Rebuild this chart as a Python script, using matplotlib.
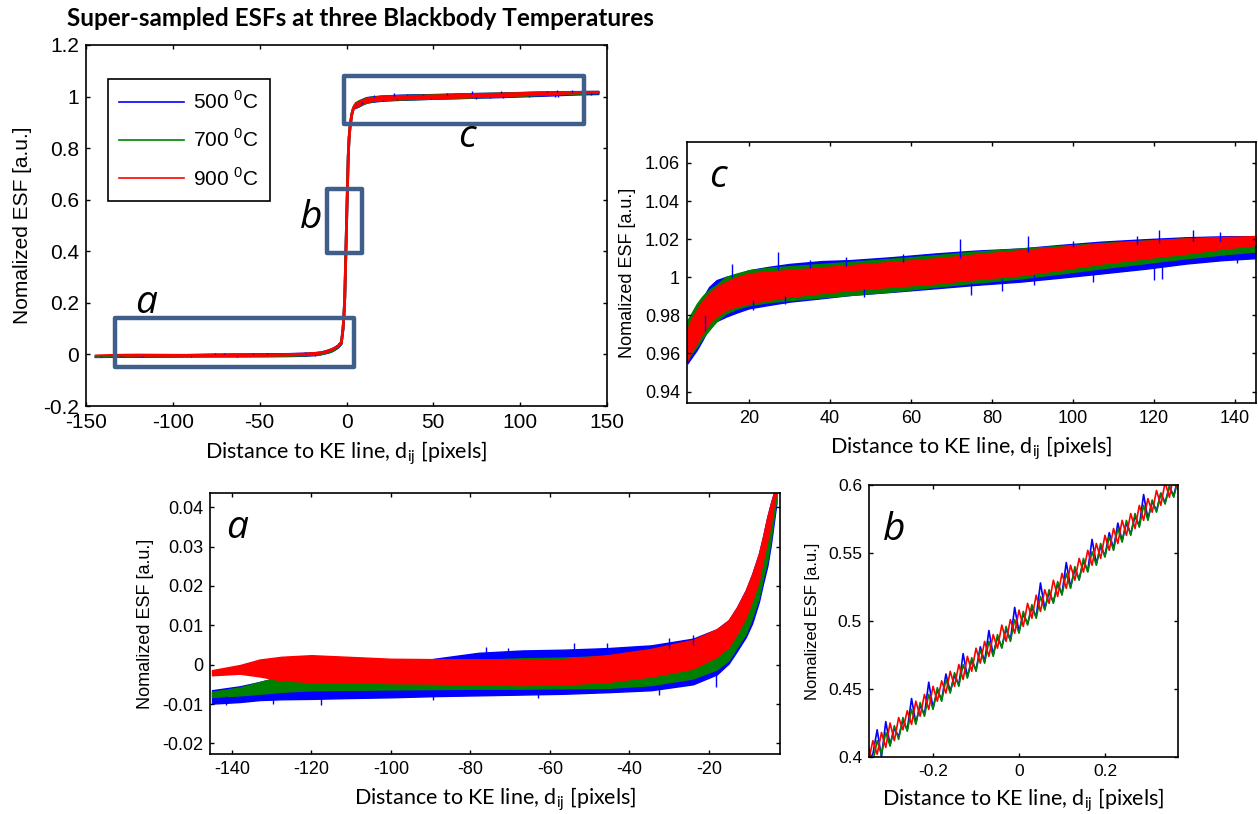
import numpy as np
import matplotlib
matplotlib.use("Agg")
import matplotlib.pyplot as plt
from matplotlib.patches import Rectangle
from matplotlib.lines import Line2D
from matplotlib.ticker import FuncFormatter

plt.rcParams['font.family'] = 'Liberation Sans'
plt.rcParams['axes.linewidth'] = 1.2

temps = ['500', '700', '900']
colors = ['#0000ff', '#008000', '#ff0000']

# ---- region a : dark side of the edge (band envelopes read from the zoom) ----
a_x = [-145, -138, -133, -127.5, -120, -111, -100, -89, -78, -67, -56.5, -45.5,
       -34.5, -24, -18, -15, -12.9, -10.7, -9.1, -7.4, -6.4, -5.3, -4.4, -3.6, -3.0]
a_hi_900 = [-0.0014, -0.0001, 0.0013, 0.0020, 0.0024, 0.0020, 0.0015, 0.0014, 0.0014, 0.0013,
            0.0014, 0.0024, 0.0040, 0.0063, 0.0090, 0.0113, 0.0146, 0.0189, 0.0230, 0.0282,
            0.0324, 0.0375, 0.0410, 0.0438, 0.0470]
a_lo_900 = [-0.0027, -0.0023, -0.0030, -0.0040, -0.0044, -0.0044, -0.0047, -0.0048, -0.0050, -0.0052,
            -0.0050, -0.0044, -0.0030, -0.0010, 0.0020, 0.0045, 0.0079, 0.0120, 0.0163, 0.0214,
            0.0265, 0.0315, 0.0358, 0.0409, 0.0440]
a_hi_700 = [-0.0069, -0.0058, -0.0044, -0.0030, -0.0022, -0.0010, -0.0002, 0.0008, 0.0012, 0.0016,
            0.0018, 0.0022, 0.0032, 0.0050, 0.0072, 0.0095, 0.0130, 0.0170, 0.0210, 0.0262,
            0.0305, 0.0355, 0.0395, 0.0430, 0.0460]
a_lo_700 = [-0.0082, -0.0078, -0.0074, -0.0069, -0.0065, -0.0064, -0.0063, -0.0062, -0.0061, -0.0061,
            -0.0060, -0.0059, -0.0052, -0.0035, -0.0012, 0.0011, 0.0045, 0.0079, 0.0120, 0.0172,
            0.0220, 0.0265, 0.0320, 0.0380, 0.0420]
a_hi_500 = [-0.0065, -0.0055, -0.0044, -0.0030, -0.0025, -0.0015, -0.0005, 0.0015, 0.0030, 0.0036,
            0.0038, 0.0042, 0.0049, 0.0066, 0.0090, 0.0113, 0.0146, 0.0189, 0.0230, 0.0282,
            0.0324, 0.0375, 0.0410, 0.0438, 0.0470]
a_lo_500 = [-0.0099, -0.0095, -0.0090, -0.0088, -0.0087, -0.0085, -0.0083, -0.0080, -0.0078, -0.0076,
            -0.0074, -0.0070, -0.0065, -0.0050, -0.0025, 0.0003, 0.0035, 0.0070, 0.0105, 0.0160,
            0.0205, 0.0250, 0.0305, 0.0365, 0.0410]
# noise spikes of the 500 C curve
a_spk_x = [-76, -70.5, -54, -45.5, -30, -24, -141.6, -129.6, -117.6, -89.3, -63, -32.5, -18.3]
a_spk_lo = [0.002, 0.002, 0.003, 0.003, 0.004, 0.005, -0.0103, -0.0101, -0.0102, -0.0090, -0.0085, -0.0078, -0.0058]
a_spk_hi = [0.0045, 0.0043, 0.0055, 0.0056, 0.0068, 0.0075, -0.008, -0.008, -0.008, -0.007, -0.007, -0.006, -0.002]

# ---- region c : bright side of the edge ----
c_x = [4.8, 5.5, 7.1, 8.5, 10.2, 12, 14.3, 17, 20, 25, 30, 38, 45, 55, 66, 76, 87, 97,
       107, 118, 128, 137, 145]
c_hi_900 = [0.9723, 0.9770, 0.9828, 0.9875, 0.9915, 0.9950, 0.9976, 1.0000, 1.0020, 1.0030,
            1.0038, 1.0052, 1.0064, 1.0080, 1.0099, 1.0120, 1.0142, 1.0160, 1.0177, 1.0192,
            1.0204, 1.0211, 1.0216]
c_lo_900 = [0.9566, 0.9600, 0.9653, 0.9705, 0.9758, 0.9795, 0.9828, 0.9848, 0.9863, 0.9882,
            0.9898, 0.9918, 0.9933, 0.9950, 0.9968, 0.9990, 1.0011, 1.0040, 1.0072, 1.0100,
            1.0125, 1.0150, 1.0169]
c_hi_700 = [0.9775, 0.9800, 0.9860, 0.9900, 0.9935, 0.9960, 1.0002, 1.0020, 1.0037, 1.0050,
            1.0058, 1.0070, 1.0081, 1.0097, 1.0116, 1.0135, 1.0151, 1.0165, 1.0180, 1.0193,
            1.0204, 1.0210, 1.0212]
c_lo_700 = [0.9566, 0.9590, 0.9635, 0.9680, 0.9725, 0.9770, 0.9810, 0.9835, 0.9854, 0.9870,
            0.9880, 0.9895, 0.9907, 0.9925, 0.9950, 0.9972, 0.9994, 1.0020, 1.0047, 1.0075,
            1.0100, 1.0120, 1.0135]
c_hi_500 = [0.9740, 0.9780, 0.9840, 0.9890, 0.9950, 0.9985, 1.0002, 1.0015, 1.0037, 1.0055,
            1.0070, 1.0085, 1.0090, 1.0105, 1.0125, 1.0140, 1.0151, 1.0170, 1.0187, 1.0200,
            1.0210, 1.0215, 1.0216]
c_lo_500 = [0.9548, 0.9570, 0.9618, 0.9670, 0.9740, 0.9770, 0.9793, 0.9815, 0.9837, 0.9855,
            0.9872, 0.9890, 0.9907, 0.9923, 0.9942, 0.9960, 0.9977, 0.9998, 1.0020, 1.0045,
            1.0072, 1.0090, 1.0100]
c_spk_x = [15.7, 27.2, 35, 44, 58, 72, 89, 100, 115.7, 121.2, 129.7, 136.4,
           9.1, 21, 28.8, 48.5, 74.8, 82.6, 90.4, 105, 120, 122, 140.5]
c_spk_lo = [1.000, 1.004, 1.005, 1.006, 1.008, 1.010, 1.0135, 1.016, 1.017, 1.018, 1.019, 1.019,
            0.972, 0.9828, 0.986, 0.9898, 0.9907, 0.9930, 0.9959, 0.9975, 0.9985, 0.999, 1.0075]
c_spk_hi = [1.0069, 1.0134, 1.009, 1.0105, 1.012, 1.0203, 1.0216, 1.019, 1.0216, 1.0247, 1.0247, 1.0238,
            0.980, 0.988, 0.990, 0.994, 0.997, 0.999, 1.001, 1.003, 1.006, 1.006, 1.012]

# ---- region b : the edge itself ----
b_x = [-0.35, -0.34, -0.33, -0.32, -0.31, -0.30, -0.29, -0.28, -0.27, -0.26,
       -0.25, -0.24, -0.23, -0.22, -0.21, -0.20, -0.19, -0.18, -0.17, -0.16,
       -0.15, -0.14, -0.13, -0.12, -0.11, -0.10, -0.09, -0.08, -0.07, -0.06,
       -0.05, -0.04, -0.03, -0.02, -0.01, 0.00, 0.01, 0.02, 0.03, 0.04,
       0.05, 0.06, 0.07, 0.08, 0.09, 0.10, 0.11, 0.12, 0.13, 0.14,
       0.15, 0.16, 0.17, 0.18, 0.19, 0.20, 0.21, 0.22, 0.23, 0.24,
       0.25, 0.26, 0.27, 0.28, 0.29, 0.30, 0.31, 0.32, 0.33, 0.34,
       0.35, 0.36, 0.37]
b_900 = [.397, .412, .402, .418, .407, .425, .412, .429, .420, .434,
         .424, .441, .430, .446, .435, .452, .441, .456, .447, .463,
         .452, .468, .457, .474, .463, .480, .469, .485, .474, .490,
         .480, .497, .485, .501, .491, .508, .496, .513, .502, .519,
         .507, .523, .513, .530, .518, .535, .524, .541, .530, .546,
         .536, .552, .541, .557, .546, .563, .552, .568, .557, .574,
         .563, .579, .568, .585, .574, .590, .580, .596, .585, .602,
         .591, .607, .597]
b_700 = [.407, .396, .412, .402, .418, .408, .423, .413, .429, .419,
         .435, .424, .440, .430, .446, .435, .451, .441, .457, .447,
         .462, .452, .468, .458, .473, .463, .479, .469, .485, .474,
         .490, .480, .496, .485, .501, .491, .507, .497, .512, .502,
         .518, .508, .523, .513, .529, .519, .535, .524, .540, .530,
         .546, .536, .551, .541, .557, .547, .562, .552, .568, .558,
         .574, .563, .579, .569, .585, .574, .589, .580, .594, .586,
         .599, .591, .604]
b_500 = [.398, .402, .420, .400, .426, .409, .421, .415, .427, .420,
         .443, .425, .438, .431, .455, .436, .449, .442, .461, .448,
         .460, .453, .476, .459, .471, .464, .481, .470, .493, .475,
         .488, .481, .494, .486, .510, .492, .505, .498, .510, .503,
         .528, .509, .521, .514, .527, .520, .543, .525, .538, .531,
         .544, .537, .560, .542, .555, .548, .565, .553, .572, .559,
         .572, .564, .577, .570, .593, .575, .588, .581, .594, .587,
         .599, .592, .605]

# steep part of the ESF for the overview panel
t_x = [-3.6, -3.0, -2.5, -2.0, -1.5, -1.0, -0.35, 0.0, 0.37, 1.0, 1.5, 2.0, 3.0, 4.0, 4.8]
t_y = [0.042, 0.046, 0.07, 0.10, 0.15, 0.22, 0.40, 0.50, 0.60, 0.77, 0.84, 0.88, 0.93, 0.955, 0.965]

a_hi = [a_hi_500, a_hi_700, a_hi_900]
a_lo = [a_lo_500, a_lo_700, a_lo_900]
c_hi = [c_hi_500, c_hi_700, c_hi_900]
c_lo = [c_lo_500, c_lo_700, c_lo_900]
b_y = [b_500, b_700, b_900]

W, H = 1258, 814
fig = plt.figure(figsize=(W / 100, H / 100), dpi=100)


def px_axes(x0, y0, x1, y1):
    return fig.add_axes([x0 / W, 1 - y1 / H, (x1 - x0) / W, (y1 - y0) / H])


fmt = FuncFormatter(lambda v, p: '%g' % round(v, 6))


def style(ax, tsize):
    ax.tick_params(direction='in', top=True, right=True, length=3, width=1,
                   labelsize=tsize, pad=5)
    ax.xaxis.set_major_formatter(fmt)
    ax.yaxis.set_major_formatter(fmt)


xlab = r'Distance to KE line, d$_{\mathregular{ij}}$ [pixels]'
ylab = 'Nomalized ESF [a.u.]'
lab_font = dict(family='Lato', size=15.5)

# ---------------- overview ----------------
ax = px_axes(86, 45, 607, 406)
for i in range(3):
    ax.fill_between(a_x, a_lo[i], a_hi[i], color=colors[i], lw=1)
    ax.fill_between(c_x, c_lo[i], c_hi[i], color=colors[i], lw=1)
    ax.plot(t_x, t_y, color=colors[i], lw=2)
    if i == 0:
        ax.vlines(a_spk_x, a_spk_lo, a_spk_hi, color=colors[0], lw=1)
        ax.vlines(c_spk_x, c_spk_lo, c_spk_hi, color=colors[0], lw=1)
ax.set_xlim(-150, 150)
ax.set_ylim(-0.2, 1.2)
ax.set_xticks([-150, -100, -50, 0, 50, 100, 150])
ax.set_yticks([-0.2, 0, 0.2, 0.4, 0.6, 0.8, 1.0, 1.2])
style(ax, 15)
ax.set_xlabel(xlab, fontdict=lab_font, labelpad=5)
ax.set_ylabel(ylab, fontsize=15, labelpad=8)

box_col = '#3f5f8a'
for (x0, y0, x1, y1) in [(-133.2, -0.047, 4.6, 0.14), (-11, 0.393, 9.2, 0.642), (-1.7, 0.895, 136.7, 1.078)]:
    ax.add_patch(Rectangle((x0, y0), x1 - x0, y1 - y0, fill=False, ec=box_col, lw=3.2,
                           joinstyle='round', zorder=5))

handles = [Line2D([0], [0], color=c, lw=1.2) for c in colors]
labels = [r'%s $^{\mathregular{0}}$C' % t for t in temps]
leg = ax.legend(handles, labels, loc='upper left', bbox_to_anchor=(0.042, 0.906),
                borderaxespad=0, fontsize=15, handlelength=3.1, handletextpad=0.45,
                labelspacing=0.75, borderpad=0.55, fancybox=False, framealpha=1,
                edgecolor='black')
leg.get_frame().set_linewidth(1.2)

# ---------------- zoom c ----------------
axc = px_axes(687, 142, 1256, 403)
for i in range(3):
    axc.fill_between(c_x, c_lo[i], c_hi[i], color=colors[i], lw=1)
    if i == 0:
        axc.vlines(c_spk_x, c_spk_lo, c_spk_hi, color=colors[0], lw=1)
axc.set_xlim(4.7, 145.2)
axc.set_ylim(0.934, 1.071)
axc.set_xticks([20, 40, 60, 80, 100, 120, 140])
axc.set_yticks([0.94, 0.96, 0.98, 1.0, 1.02, 1.04, 1.06])
style(axc, 13)
axc.set_xlabel(xlab, fontdict=lab_font, labelpad=5)
axc.set_ylabel(ylab, fontsize=13, labelpad=6)

# ---------------- zoom a ----------------
axa = px_axes(210, 493, 780, 754)
for i in range(3):
    axa.fill_between(a_x, a_lo[i], a_hi[i], color=colors[i], lw=1)
    if i == 0:
        axa.vlines(a_spk_x, a_spk_lo, a_spk_hi, color=colors[0], lw=1)
axa.set_xlim(-145.5, -2.1)
axa.set_ylim(-0.0227, 0.0436)
axa.set_xticks([-140, -120, -100, -80, -60, -40, -20])
axa.set_yticks([-0.02, -0.01, 0, 0.01, 0.02, 0.03, 0.04])
style(axa, 13)
axa.set_xlabel(xlab, fontdict=lab_font, labelpad=5)
axa.set_ylabel(ylab, fontsize=13, labelpad=6)

# ---------------- zoom b ----------------
axb = px_axes(869, 485, 1178, 757)
for i in range(3):
    axb.plot(b_x, b_y[i], color=colors[i], lw=1.2)
axb.set_xlim(-0.349, 0.37)
axb.set_ylim(0.4, 0.6)
axb.set_xticks([-0.2, 0, 0.2])
axb.set_yticks([0.4, 0.45, 0.5, 0.55, 0.6])
style(axb, 12.5)
axb.set_xlabel(xlab, fontdict=lab_font, labelpad=5)
axb.set_ylabel(ylab, fontsize=12, labelpad=6)

# panel letters (pixel positions of the glyph baselines)
letter_font = dict(family='Open Sans', style='italic', size=28)
for s, x, y in [('a', 146, 313), ('b', 311, 228), ('c', 467, 147),
                ('c', 718, 187), ('a', 237, 538), ('b', 894, 540)]:
    fig.text(x / W, 1 - y / H, s, ha='center', va='baseline', **letter_font)

fig.text(67 / W, 1 - 18 / H, 'Super-sampled ESFs at three Blackbody Temperatures',
         family='Lato', weight='bold', size=17.5, ha='left', va='center')

fig.savefig('out.png', dpi=100)
